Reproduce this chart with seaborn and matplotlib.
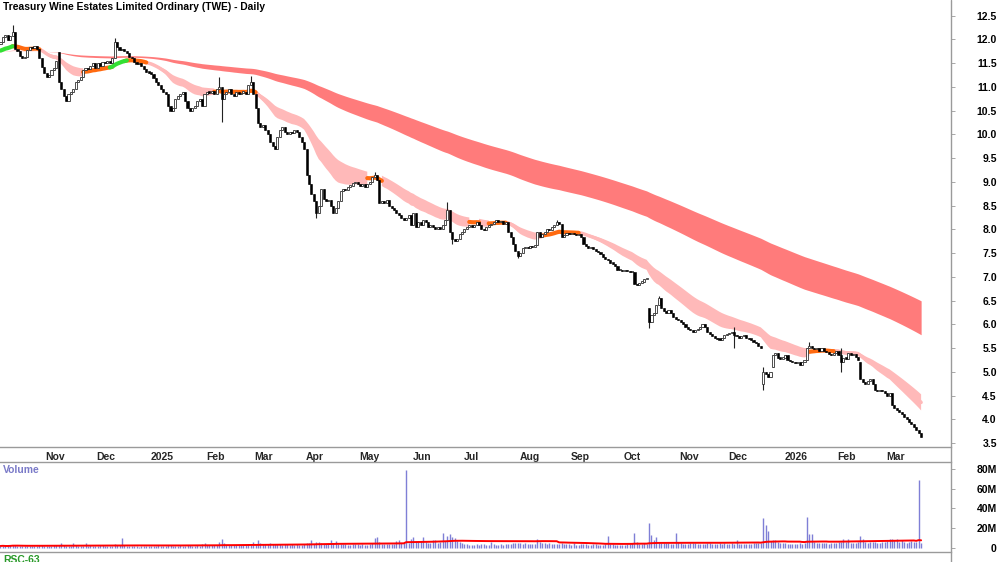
import numpy as np
import pandas as pd
import matplotlib
matplotlib.use('Agg')
import matplotlib.pyplot as plt
from matplotlib.lines import Line2D
import matplotlib.transforms as mtransforms
import seaborn as sns

sns.set_theme(style='white')
plt.rcParams['font.family'] = ['Liberation Sans', 'DejaVu Sans']

dates = pd.bdate_range('2024-10-08', '2026-03-23')

# daily closes, one line per month
close = [
    11.95, 12.05, 12.10, 11.98, 12.08, 12.15, 11.80, 11.75, 11.65, 11.60, 11.62, 11.78, 11.85, 11.82, 11.86, 11.80, 11.60, 11.42,
    11.30, 11.20, 11.25, 11.35, 11.40, 11.55, 11.10, 10.95, 10.80, 10.70, 10.85, 10.90, 10.95, 11.10, 11.15, 11.20, 11.35, 11.40, 11.38, 11.45, 11.50,
    11.40, 11.50, 11.45, 11.52, 11.50, 11.55, 11.50, 11.60, 11.95, 11.85, 11.78, 11.80, 11.75, 11.72, 11.62, 11.60, 11.52, 11.48, 11.50, 11.45, 11.38, 11.32,
    11.30, 11.28, 11.18, 11.10, 11.05, 10.95, 10.90, 10.85, 10.60, 10.50, 10.55, 10.75, 10.80, 10.85, 10.90, 10.70, 10.55, 10.50, 10.55, 10.60, 10.70, 10.75, 10.60,
    10.85, 10.90, 10.88, 10.92, 10.85, 10.95, 11.00, 10.75, 10.85, 10.90, 10.95, 10.85, 10.80, 10.90, 10.85, 10.88, 10.90, 10.85, 11.05, 11.10,
    10.85, 10.55, 10.25, 10.15, 10.20, 10.10, 10.00, 9.85, 9.75, 9.70, 9.95, 10.10, 10.15, 10.05, 10.00, 10.05, 10.02, 10.10, 10.05, 9.95, 9.85,
    9.70, 9.15, 8.95, 8.75, 8.60, 8.35, 8.50, 8.85, 8.65, 8.60, 8.62, 8.50, 8.35, 8.45, 8.60, 8.80, 8.85, 8.82, 8.90, 8.92, 8.98, 9.00,
    8.95, 8.92, 8.95, 8.90, 8.95, 9.00, 9.10, 9.15, 9.05, 8.55, 8.60, 8.55, 8.62, 8.50, 8.45, 8.40, 8.35, 8.30, 8.25, 8.20, 8.25, 8.30,
    8.10, 8.35, 8.05, 8.15, 8.10, 8.20, 8.15, 8.05, 8.10, 8.05, 8.00, 8.05, 8.00, 8.10, 8.20, 8.40, 7.95, 7.80, 7.75, 7.80, 7.90,
    7.95, 8.00, 8.05, 8.10, 8.05, 8.10, 8.15, 8.10, 8.00, 7.98, 8.05, 8.10, 8.12, 8.15, 8.20, 8.15, 8.18, 8.12, 8.15, 7.95, 7.85, 7.70, 7.55,
    7.45, 7.50, 7.60, 7.62, 7.60, 7.65, 7.62, 7.68, 7.95, 7.85, 7.90, 7.95, 8.00, 7.98, 8.05, 8.10, 8.15, 8.12, 7.85, 7.88, 7.92,
    7.90, 7.92, 7.90, 7.88, 7.90, 7.85, 7.70, 7.65, 7.60, 7.62, 7.58, 7.55, 7.52, 7.48, 7.42, 7.38, 7.35, 7.30, 7.28, 7.22, 7.15, 7.15,
    7.12, 7.15, 7.12, 7.10, 7.10, 6.85, 6.82, 6.88, 6.90, 6.95, 6.95, 6.05, 6.20, 6.25, 6.40, 6.55, 6.35, 6.28, 6.25, 6.30, 6.25, 6.15, 6.12,
    6.10, 6.05, 6.00, 5.95, 5.90, 5.88, 5.85, 5.88, 5.90, 5.95, 6.00, 5.95, 5.85, 5.80, 5.75, 5.72, 5.70, 5.68, 5.72, 5.78,
    5.80, 5.82, 5.85, 5.78, 5.75, 5.72, 5.75, 5.78, 5.72, 5.70, 5.68, 5.62, 5.60, 5.55, 5.50, 5.00, 4.95, 4.90, 5.00, 5.35, 5.40, 5.30, 5.28,
    5.30, 5.35, 5.25, 5.22, 5.20, 5.18, 5.20, 5.15, 5.20, 5.25, 5.50, 5.55, 5.50, 5.48, 5.50, 5.45, 5.50, 5.45, 5.42, 5.38, 5.35, 5.40,
    5.45, 5.35, 5.20, 5.30, 5.28, 5.40, 5.35, 5.38, 5.32, 5.25, 4.85, 4.78, 4.75, 4.80, 4.85, 4.75, 4.62, 4.60, 4.62, 4.60,
    4.55, 4.50, 4.55, 4.30, 4.25, 4.20, 4.15, 4.12, 4.05, 4.00, 3.95, 3.90, 3.85, 3.78, 3.72, 3.62,
]

# daily volume in millions, one line per month
volume_m = [
    2.1, 2.4, 1.8, 2.0, 2.6, 3.5, 2.8, 2.2, 1.9, 2.0, 2.3, 1.7, 2.1, 2.4, 2.0, 1.8, 2.6, 3.0,
    2.5, 2.2, 2.0, 2.4, 2.8, 3.1, 2.7, 4.8, 2.6, 2.2, 2.0, 2.4, 5.0, 2.6, 2.3, 2.1, 2.5, 5.2, 2.2, 2.8, 2.4,
    2.3, 2.0, 2.6, 2.8, 2.2, 2.4, 2.0, 2.5, 4.0, 3.0, 2.6, 10.0, 2.8, 2.4, 2.2, 2.0, 1.8, 1.6, 1.5, 2.2, 2.0, 1.8,
    2.0, 2.2, 1.8, 2.4, 2.6, 2.0, 2.3, 2.5, 3.2, 2.8, 2.4, 2.2, 2.0, 2.6, 2.4, 2.2, 3.0, 2.8, 2.5, 2.2, 2.6, 2.4, 4.5,
    5.0, 3.5, 3.0, 2.8, 3.2, 3.4, 6.5, 9.0, 5.5, 3.2, 3.0, 2.8, 3.4, 3.0, 2.6, 2.8, 3.2, 3.0, 3.6, 4.2,
    6.0, 4.5, 8.0, 5.5, 4.2, 3.8, 4.5, 5.0, 4.0, 3.6, 4.2, 3.8, 3.5, 4.0, 3.6, 3.4, 3.8, 3.2, 3.6, 3.0, 3.4,
    4.0, 5.5, 5.0, 8.0, 4.5, 6.5, 6.0, 4.8, 4.2, 3.8, 4.5, 8.2, 5.5, 7.5, 4.2, 3.8, 3.6, 4.0, 3.4, 3.2, 3.8, 3.6,
    3.6, 3.4, 3.8, 3.2, 3.5, 4.0, 5.5, 10.5, 11.2, 6.0, 4.5, 4.0, 3.8, 4.2, 4.0, 3.6, 7.5, 8.2, 5.0, 4.6, 79.0, 5.5,
    9.5, 10.8, 6.5, 5.8, 7.0, 11.0, 6.2, 5.5, 5.0, 8.0, 7.8, 5.5, 6.0, 15.0, 6.8, 12.0, 14.0, 11.5, 10.0, 7.5, 6.0,
    5.5, 4.5, 3.8, 3.2, 3.0, 3.4, 3.6, 3.0, 3.8, 4.0, 3.2, 3.5, 6.0, 3.8, 3.4, 3.0, 3.6, 3.2, 3.8, 4.5, 4.2, 4.8, 5.0,
    5.5, 4.8, 4.2, 5.0, 4.5, 4.0, 3.8, 4.4, 9.0, 6.0, 5.2, 4.6, 4.0, 5.0, 4.2, 3.8, 4.5, 4.0, 5.0, 4.2, 3.6,
    3.8, 3.4, 4.6, 3.2, 3.0, 3.6, 4.2, 3.8, 3.4, 3.0, 3.6, 4.0, 3.2, 3.5, 3.0, 3.8, 12.5, 4.2, 3.6, 3.2, 3.4, 3.0,
    3.4, 3.2, 3.8, 4.0, 5.5, 15.0, 6.0, 4.5, 4.0, 5.0, 4.2, 25.0, 13.0, 8.0, 11.0, 6.5, 5.5, 5.0, 4.8, 5.2, 4.5, 4.2, 15.0,
    6.0, 5.0, 4.5, 4.2, 4.0, 4.6, 5.2, 4.8, 4.4, 4.0, 3.8, 4.2, 5.5, 4.6, 4.0, 3.6, 4.2, 5.0, 4.4, 4.8,
    4.5, 4.2, 5.0, 4.0, 8.0, 4.5, 4.0, 3.8, 4.2, 3.6, 4.4, 5.0, 4.6, 5.5, 5.2, 30.0, 23.0, 17.0, 7.5, 8.0, 8.5, 6.0, 5.5,
    5.0, 4.6, 4.2, 4.0, 4.4, 3.8, 4.0, 4.6, 4.2, 5.0, 31.0, 14.0, 14.5, 6.5, 5.5, 5.0, 4.8, 5.2, 4.6, 4.4, 5.0, 4.8,
    5.5, 6.0, 6.5, 9.0, 6.0, 9.5, 5.5, 5.0, 5.2, 6.0, 12.0, 9.0, 6.5, 5.5, 6.0, 5.8, 6.5, 5.2, 5.5, 6.0,
    6.5, 7.0, 9.0, 9.5, 8.0, 9.0, 6.5, 8.5, 6.0, 5.5, 6.0, 7.5, 6.0, 6.5, 69.0, 5.5,
]

first_open = 11.90
# gap opens and long wicks (bar index)
gap_bar = [24, 267, 314, 318, 354]
gap_open = [11.74, 6.35, 4.75, 5.10, 5.20]
wick_bar = [5, 47, 90, 91, 103, 130, 154, 184, 186, 213, 229, 267, 271, 302, 314, 333, 346]
wick_hi = [12.30, 12.02, 11.20, np.nan, 11.22, np.nan, 9.20, 8.58, np.nan, np.nan, 8.20, np.nan, 6.60, 5.95, 5.10, 5.62, 5.50]
wick_lo = [np.nan, np.nan, np.nan, 10.26, np.nan, 8.25, np.nan, np.nan, 7.70, 7.40, np.nan, 5.93, np.nan, 5.50, 4.62, np.nan, 5.00]

# stretches where the short ribbon is drawn orange / green
orange_spans = [(5, 16), (34, 46), (51, 60), (88, 105), (151, 157), (193, 197), (201, 208), (223, 238), (333, 343)]
green_spans = [(0, 5), (45, 52)]

ribbon_fast, ribbon_slow = 21, 40
band_fast, band_slow = 150, 225
ema_seed = 11.75
vol_ma_days = 63

df = pd.DataFrame({'date': dates, 'close': close, 'volume': np.array(volume_m) * 1e6})
n = len(df)
df['bar'] = np.arange(n)
df['open'] = df['close'].shift(1).fillna(first_open)
df.loc[gap_bar, 'open'] = gap_open
df['high'] = df[['open', 'close']].max(axis=1)
df['low'] = df[['open', 'close']].min(axis=1)
wk = pd.DataFrame({'hi': wick_hi, 'lo': wick_lo}, index=wick_bar)
df.loc[wick_bar, 'high'] = np.fmax(df.loc[wick_bar, 'high'], wk['hi'])
df.loc[wick_bar, 'low'] = np.fmin(df.loc[wick_bar, 'low'], wk['lo'])


def ema(span):
    s = pd.concat([pd.Series([ema_seed]), df['close']], ignore_index=True)
    return s.ewm(span=span, adjust=False).mean().iloc[1:].to_numpy()


df['rf'] = ema(ribbon_fast)
df['rs'] = ema(ribbon_slow)
df['bf'] = ema(band_fast)
df['bs'] = ema(band_slow)
df['rmid'] = (df['rf'] + df['rs']) / 2
df['vol_ma'] = df['volume'].rolling(vol_ma_days, min_periods=1).mean()

state = np.array(['pink'] * n, dtype=object)
for a, b in orange_spans:
    state[a:b + 1] = 'orange'
for a, b in green_spans:
    state[a:b + 1] = 'green'
pink = state == 'pink'
pink_wide = pink | np.roll(pink, 1) | np.roll(pink, -1)

fig = plt.figure(figsize=(10, 5.62), dpi=100)
ax = fig.add_axes([0, 1 - 447 / 562, 0.951, 447 / 562])
axv = fig.add_axes([0, 10 / 562, 0.951, 90 / 562])

grey = '#9a9a9a'
xlim = (-0.2, 391.3)

# long band
ax.fill_between(df['bar'], df['bf'], df['bs'], color='#ff7b7b', lw=0, zorder=1)
# short ribbon
ax.fill_between(df['bar'], df['rf'], df['rs'], where=pink_wide, color='#ffb9b9', lw=0, zorder=2)
sns.lineplot(x=df['bar'][pink_wide], y=df['rmid'][pink_wide], ax=ax, color='#ffb9b9', lw=2.5, zorder=2,
             estimator=None, units=np.cumsum(~pink_wide)[pink_wide])
for spans, col in [(orange_spans, '#ff6a10'), (green_spans, '#33e033')]:
    for a, b in spans:
        seg = df.iloc[a:b + 1]
        sns.lineplot(x=seg['bar'], y=seg['rmid'], ax=ax, color=col, lw=3, zorder=3, estimator=None)

# candles
up = df['close'] >= df['open']
ax.vlines(df['bar'], df['low'], df['high'], color='#222222', lw=0.8, zorder=4)
body = (df['close'] - df['open']).abs().clip(lower=0.025)
bottom = df[['open', 'close']].min(axis=1)
ax.bar(df['bar'][up], body[up], bottom=bottom[up], width=0.85, color='white', edgecolor='#333333', lw=0.6, zorder=5)
ax.bar(df['bar'][~up], body[~up], bottom=bottom[~up], width=0.85, color='black', edgecolor='black', lw=0.4, zorder=5)

ax.set_xlim(*xlim)
ax.set_ylim(3.42, 12.83)
ax.set_xlabel('')
ax.set_ylabel('')
for s in ['top', 'left', 'right']:
    ax.spines[s].set_visible(False)
ax.spines['bottom'].set_color(grey)
ax.spines['bottom'].set_linewidth(1)

yt = np.arange(3.5, 12.51, 0.5)
ax.yaxis.tick_right()
ax.set_yticks(yt)
ax.set_yticklabels([f'{v:.1f}' for v in yt])
ax.tick_params(axis='y', length=3, width=0.6, color=grey, pad=30, labelsize=7.5, labelcolor='black')
for lbl in ax.get_yticklabels():
    lbl.set_ha('right')
    lbl.set_fontweight('bold')

# month ticks
months = df.groupby(df['date'].dt.to_period('M'))['bar'].min().iloc[1:]
labels = [str(p.year) if p.month == 1 else p.strftime('%b') for p in months.index]
ax.set_xticks(months.values)
ax.set_xticklabels(labels)
ax.tick_params(axis='x', direction='out', length=3, width=0.8, color='#555555', pad=0.5, labelsize=7.5)
off = mtransforms.ScaledTranslation(1.5 / 100, 0, fig.dpi_scale_trans)
for lbl in ax.get_xticklabels():
    lbl.set_ha('left')
    lbl.set_fontweight('bold')
    lbl.set_transform(lbl.get_transform() + off)

ax.text(0.003, 0.995, 'Treasury Wine Estates Limited Ordinary (TWE) - Daily', transform=ax.transAxes,
        ha='left', va='top', fontsize=7.4, fontweight='bold', color='black')

# volume panel
axv.vlines(df['bar'], 0, df['volume'], color='#7f7fd6', lw=1.0, zorder=2)
sns.lineplot(x=df['bar'], y=df['vol_ma'], ax=axv, color='red', lw=1.4, zorder=3, estimator=None)
axv.set_xlim(*xlim)
axv.set_ylim(-4e6, 87e6)
axv.set_xlabel('')
axv.set_ylabel('')
axv.set_xticks([])
for s in ['left', 'right']:
    axv.spines[s].set_visible(False)
for s in ['top', 'bottom']:
    axv.spines[s].set_color(grey)
    axv.spines[s].set_linewidth(1)
vt = [0, 20e6, 40e6, 60e6, 80e6]
axv.yaxis.tick_right()
axv.set_yticks(vt)
axv.set_yticklabels(['0' if v == 0 else f'{int(v / 1e6)}M' for v in vt])
axv.tick_params(axis='y', length=3, width=0.6, color=grey, pad=30, labelsize=7.5, labelcolor='black')
for lbl in axv.get_yticklabels():
    lbl.set_ha('right')
    lbl.set_fontweight('bold')
axv.text(0.003, 0.97, 'Volume', transform=axv.transAxes, ha='left', va='top',
         fontsize=7.5, fontweight='bold', color='#7a7ac8')

fig.text(0.003, 1 - 555 / 562, 'RSC-63', ha='left', va='top', fontsize=7.5, fontweight='bold', color='#2a9a2a')
fig.add_artist(Line2D([0.951, 0.951], [0, 1], transform=fig.transFigure, color=grey, lw=1))

fig.savefig('out.png', dpi=100, facecolor='white')
